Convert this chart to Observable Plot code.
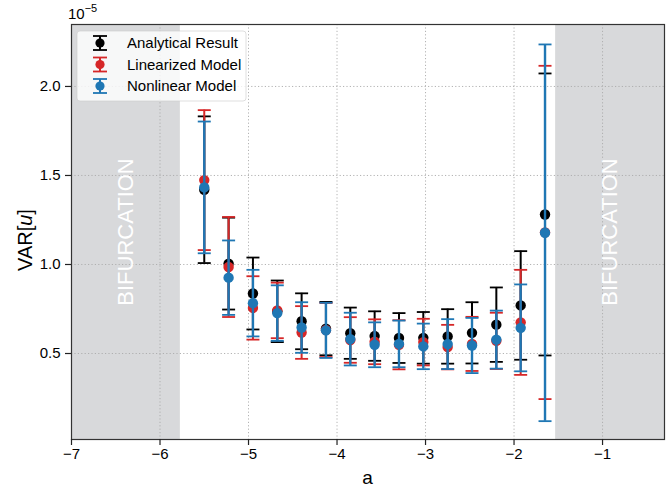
<!DOCTYPE html>
<html><head><meta charset="utf-8">
<script src="https://cdn.jsdelivr.net/npm/d3@7"></script>
<script src="https://cdn.jsdelivr.net/npm/@observablehq/plot@0.6"></script>
<style>
body{margin:0;background:#fff;}
#chart svg{font-family:"Liberation Sans",Arial,Helvetica,sans-serif;}
</style>
</head><body><div id="chart"></div>
<script>
// ---- data (values in units of 1e-5) ----
const aValues = [-5.5, -5.225, -4.95, -4.675, -4.4, -4.125, -3.85, -3.575, -3.3, -3.025, -2.75, -2.475, -2.2, -1.925, -1.65];

const analyticalMean = [1.42, 1.005, 0.837, 0.737, 0.681, 0.64, 0.614, 0.598, 0.587, 0.588, 0.596, 0.616, 0.662, 0.77, 1.281];
const analyticalErr  = [0.412, 0.258, 0.202, 0.173, 0.157, 0.15, 0.144, 0.139, 0.14, 0.145, 0.153, 0.172, 0.209, 0.305, 0.792];

const linearizedMean = [1.474, 0.986, 0.756, 0.742, 0.618, 0.632, 0.576, 0.566, 0.549, 0.564, 0.536, 0.554, 0.571, 0.675, 1.18];
const linearizedErr  = [0.393, 0.281, 0.178, 0.156, 0.148, 0.152, 0.128, 0.126, 0.138, 0.131, 0.125, 0.152, 0.158, 0.295, 0.936];

const nonlinearMean = [1.433, 0.926, 0.783, 0.727, 0.646, 0.63, 0.581, 0.549, 0.554, 0.54, 0.553, 0.545, 0.578, 0.644, 1.178];
const nonlinearErr  = [0.37, 0.209, 0.187, 0.156, 0.142, 0.155, 0.148, 0.126, 0.131, 0.128, 0.14, 0.155, 0.163, 0.244, 1.058];

const seriesNames  = ["Analytical Result", "Linearized Model", "Nonlinear Model"];
const seriesColors = ["#000000", "#d62728", "#1f77b4"];

const bifurcationStart = [-7, -1.53];
const bifurcationEnd   = [-5.77, -0.3];
const bifurcationLabel = ["BIFURCATION", "BIFURCATION"];

const xTicks = [-7, -6, -5, -4, -3, -2, -1];
const yTicks = [0.5, 1.0, 1.5, 2.0];
const xDomain = [-7, -0.3];
const yDomain = [0.017, 2.348];

// ---- build tables ----
const means = [analyticalMean, linearizedMean, nonlinearMean];
const errs  = [analyticalErr, linearizedErr, nonlinearErr];
const series = seriesNames.map((name, s) => aValues.map((a, i) => ({
  a, name, mean: means[s][i], lo: means[s][i] - errs[s][i], hi: means[s][i] + errs[s][i]
})));
const regions = bifurcationStart.map((x1, i) => ({x1, x2: bifurcationEnd[i], mid: (x1 + bifurcationEnd[i]) / 2, label: bifurcationLabel[i]}));

const capSymbol = {
  draw(ctx, size) { const w = Math.sqrt(size / Math.PI); ctx.moveTo(-w, 0); ctx.lineTo(w, 0); }
};
const minusFmt = d => d < 0 ? "\u2212" + Math.abs(d) : String(d);

const seriesMarks = series.flatMap((data, s) => [
  Plot.ruleX(data, {x: "a", y1: "lo", y2: "hi", stroke: seriesColors[s], strokeWidth: s === 2 ? 2.4 : 2}),
  Plot.dot(data, {x: "a", y: "hi", symbol: capSymbol, r: 6.5, stroke: seriesColors[s], strokeWidth: 1.8, fill: "none"}),
  Plot.dot(data, {x: "a", y: "lo", symbol: capSymbol, r: 6.5, stroke: seriesColors[s], strokeWidth: 1.8, fill: "none"}),
  Plot.dot(data, {x: "a", y: "mean", r: 5.2, fill: seriesColors[s], stroke: "none"})
]);

const chart = Plot.plot({
  width: 670,
  height: 489,
  marginLeft: 71,
  marginRight: 6,
  marginTop: 24,
  marginBottom: 50,
  style: {fontFamily: "'Liberation Sans', Arial, Helvetica, sans-serif", fontSize: "15px", color: "#000", background: "#fff", overflow: "visible"},
  x: {domain: xDomain},
  y: {domain: yDomain},
  marks: [
    Plot.rect(regions, {x1: "x1", x2: "x2", y1: yDomain[0], y2: yDomain[1], fill: "#d8d9db"}),
    Plot.gridX(xTicks, {stroke: "#aaaaaa", strokeOpacity: 1, strokeWidth: 0.9, strokeDasharray: "1.2,2.2"}),
    Plot.gridY(yTicks, {stroke: "#aaaaaa", strokeOpacity: 1, strokeWidth: 0.9, strokeDasharray: "1.2,2.2"}),
    Plot.text(regions, {x: "mid", frameAnchor: "middle", text: "label", rotate: -90, fill: "#ffffff", fontSize: 22}),
    ...seriesMarks,
    Plot.frame({stroke: "#333", strokeWidth: 1.2}),
    Plot.axisX(xTicks, {tickSize: 6, tickPadding: 3, fontSize: 15, tickFormat: minusFmt, label: null, stroke: "#222", strokeWidth: 1.2, fill: "#000"}),
    Plot.axisY(yTicks, {tickSize: 6, tickPadding: 5, fontSize: 15, tickFormat: d3.format(".1f"), label: null, stroke: "#222", strokeWidth: 1.2, fill: "#000"})
  ]
});
document.getElementById("chart").appendChild(chart);

// ---- annotations: offset text, axis labels, legend ----
const svg = d3.select(chart);
const font = "'Liberation Sans', Arial, Helvetica, sans-serif";

const off = svg.append("text").attr("x", 68).attr("y", 19).attr("text-anchor", "start")
  .attr("font-size", 15).attr("font-family", font).attr("fill", "#000");
off.append("tspan").text("10");
off.append("tspan").attr("dy", -7).attr("font-size", 11).text("\u22125");

svg.append("text").attr("x", 367.5).attr("y", 484).attr("text-anchor", "middle")
  .attr("font-size", 19).attr("font-family", font).attr("fill", "#000").text("a");

const yl = svg.append("text").attr("transform", "translate(32,240) rotate(-90)").attr("text-anchor", "middle")
  .attr("font-size", 20).attr("font-family", font).attr("fill", "#000");
yl.append("tspan").text("VAR[");
yl.append("tspan").attr("font-style", "italic").text("u");
yl.append("tspan").text("]");

const lg = svg.append("g");
lg.append("rect").attr("x", 77).attr("y", 31).attr("width", 169).attr("height", 70).attr("rx", 3)
  .attr("fill", "#fff").attr("fill-opacity", 0.8).attr("stroke", "#cccccc").attr("stroke-opacity", 0.8).attr("stroke-width", 0.8);
seriesNames.forEach((name, i) => {
  const cy = 43 + i * 21.5, cx = 100, c = seriesColors[i];
  lg.append("line").attr("x1", cx).attr("x2", cx).attr("y1", cy - 7).attr("y2", cy + 7).attr("stroke", c).attr("stroke-width", 2);
  lg.append("line").attr("x1", cx - 7).attr("x2", cx + 7).attr("y1", cy - 7).attr("y2", cy - 7).attr("stroke", c).attr("stroke-width", 1.8);
  lg.append("line").attr("x1", cx - 7).attr("x2", cx + 7).attr("y1", cy + 7).attr("y2", cy + 7).attr("stroke", c).attr("stroke-width", 1.8);
  lg.append("circle").attr("cx", cx).attr("cy", cy).attr("r", 4.6).attr("fill", c);
  lg.append("text").attr("x", 127).attr("y", cy + 5).attr("text-anchor", "start")
    .attr("font-size", 15).attr("font-family", font).attr("fill", "#000").text(name);
});
</script>
</body></html>
